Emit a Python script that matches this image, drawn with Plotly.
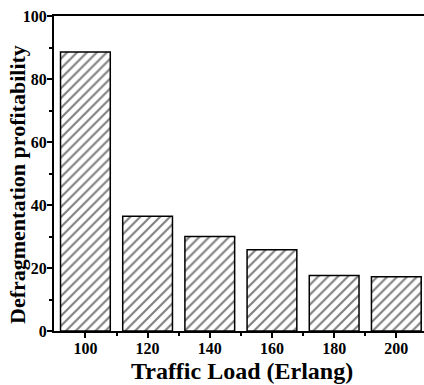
import plotly.graph_objects as go

traffic_load = [100, 120, 140, 160, 180, 200]
profitability = [88.6, 36.4, 30.0, 25.8, 17.6, 17.2]
x_ticks = [100, 120, 140, 160, 180, 200]
x_minor_ticks = [110, 130, 150, 170, 190]
y_ticks = [0, 20, 40, 60, 80, 100]

ff = "Liberation Serif"

fig = go.Figure()
fig.add_trace(go.Bar(
    x=traffic_load,
    y=profitability,
    width=16,
    marker=dict(
        color="white",
        line=dict(color="black", width=1.5),
        pattern=dict(shape="/", fgcolor="black", bgcolor="white", size=7, solidity=0.3),
    ),
))

fig.update_layout(
    width=424, height=385,
    margin=dict(l=54, r=0, t=16, b=54),
    plot_bgcolor="white", paper_bgcolor="white",
    showlegend=False,
    font=dict(family=ff, color="black", weight="bold"),
    xaxis=dict(
        range=[89.9, 208.9],
        tickvals=x_ticks,
        ticktext=["<b>%d</b>" % v for v in x_ticks],
        ticks="outside", ticklen=5, tickwidth=1.5, tickcolor="black",
        ticklabelstandoff=-3,
        minor=dict(tickvals=x_minor_ticks, ticks="outside", ticklen=3, tickwidth=1.5, tickcolor="black"),
        showline=True, linecolor="black", linewidth=2, mirror=True,
        showgrid=False, zeroline=False,
        tickfont=dict(size=16, family=ff, color="black"),
    ),
    yaxis=dict(
        range=[0, 100],
        tickvals=y_ticks,
        ticktext=["<b>%d</b>" % v for v in y_ticks],
        ticks="outside", ticklen=5, tickwidth=1.5, tickcolor="black",
        ticklabelstandoff=-3,
        minor=dict(dtick=10, ticks="outside", ticklen=3, tickwidth=1.5, tickcolor="black"),
        showline=True, linecolor="black", linewidth=2, mirror=False,
        showgrid=False, zeroline=False,
        tickfont=dict(size=16, family=ff, color="black"),
    ),
    annotations=[
        dict(text="<b>Traffic Load (Erlang)</b>", xref="paper", yref="paper",
             x=(241.5 - 54) / 370, y=-(371 - 331) / 315, xanchor="center", yanchor="middle",
             showarrow=False, font=dict(size=24, family=ff, color="black")),
        dict(text="<b>Defragmentation profitability</b>", xref="paper", yref="paper",
             x=-(54 - 17) / 370, y=(331 - 185) / 315, xanchor="center", yanchor="middle",
             textangle=-90, showarrow=False, font=dict(size=22, family=ff, color="black")),
    ],
)

fig.write_html("out.html")
